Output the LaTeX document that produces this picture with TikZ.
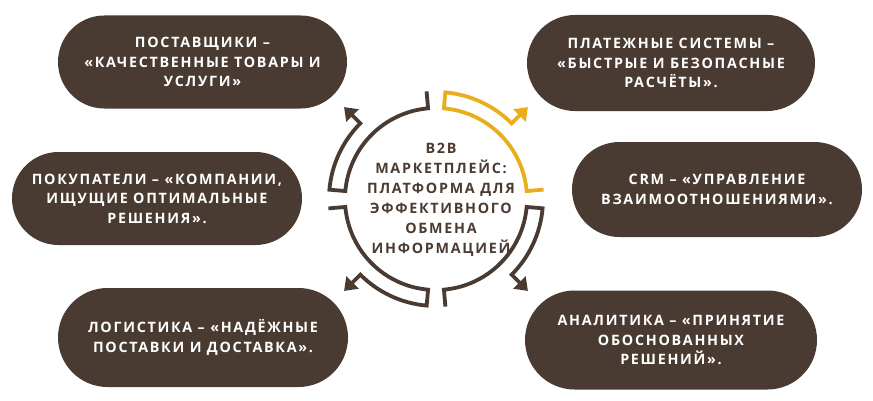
\documentclass[tikz,border=0pt]{standalone}
\usepackage{fontspec}
\setmainfont{Open Sans}[LetterSpace=12]
\usepackage{tikz}
\usetikzlibrary{shapes.misc}
\usetikzlibrary{arrows.meta}
\definecolor{bark}{HTML}{4A3B32}
\definecolor{amber}{HTML}{E9AE1E}

\tikzset{
   pill/.style={
      rounded rectangle,
      fill=bark,
      text=white,
      align=center,
      inner sep=0pt,
      font=\bfseries\fontsize{14.3}{19.5}\selectfont
   },
   ring/.style={
      line width=3.8pt,
      line join=miter,
      -{Triangle[length=12pt,width=17pt]}
   }
}

\begin{document}
\begin{tikzpicture}[x=1pt,y=1pt]
   \useasboundingbox (0,0) rectangle (873,400);

   \node[pill, minimum width=289pt, minimum height=93pt] (suppliers) at (202.5,338)
      {ПОСТАВЩИКИ –\\«КАЧЕСТВЕННЫЕ ТОВАРЫ И\\УСЛУГИ»};
   \node[pill, minimum width=288pt, minimum height=96pt] (payments) at (671,337)
      {ПЛАТЕЖНЫЕ СИСТЕМЫ –\\«БЫСТРЫЕ И БЕЗОПАСНЫЕ\\РАСЧЁТЫ».};
   \node[pill, minimum width=290pt, minimum height=93pt] (buyers) at (157,201.5)
      {ПОКУПАТЕЛИ – «КОМПАНИИ,\\ИЩУЩИЕ ОПТИМАЛЬНЫЕ\\РЕШЕНИЯ».};
   \node[pill, minimum width=290pt, minimum height=95pt] (crm) at (717,210.5)
      {CRM – «УПРАВЛЕНИЕ\\ВЗАИМООТНОШЕНИЯМИ».};
   \node[pill, minimum width=290pt, minimum height=99pt] (logistics) at (203,62.5)
      {ЛОГИСТИКА – «НАДЁЖНЫЕ\\ПОСТАВКИ И ДОСТАВКА».};
   \node[pill, minimum width=292pt, minimum height=99pt] (analytics) at (671,60)
      {АНАЛИТИКА – «ПРИНЯТИЕ\\ОБОСНОВАННЫХ\\РЕШЕНИЙ».};

   \node[
      align=center,
      text=bark,
      inner sep=0pt,
      font=\bfseries\fontsize{14.3}{20}\selectfont
   ] (hub) at (441,200)
      {B2B\\МАРКЕТПЛЕЙС:\\ПЛАТФОРМА ДЛЯ\\ЭФФЕКТИВНОГО\\ОБМЕНА\\ИНФОРМАЦИЕЙ};

   \begin{scope}[shift={(436,201)}]
      \foreach \k/\col in {0/amber,1/bark,2/bark,3/bark} {
         \pgfmathsetmacro\s{85-90*\k}
         \pgfmathsetmacro\e{\s-80}
         \pgfmathsetmacro\a{45-90*\k}
         \draw[ring, color=\col]
            (\e:108) -- (\e:91)
            arc[start angle=\e, end angle=\s, radius=91pt]
            -- (\s:107)
            arc[start angle=\s, end angle=\a, radius=107pt]
            -- (\a:130);
      }
   \end{scope}
\end{tikzpicture}
\end{document}
